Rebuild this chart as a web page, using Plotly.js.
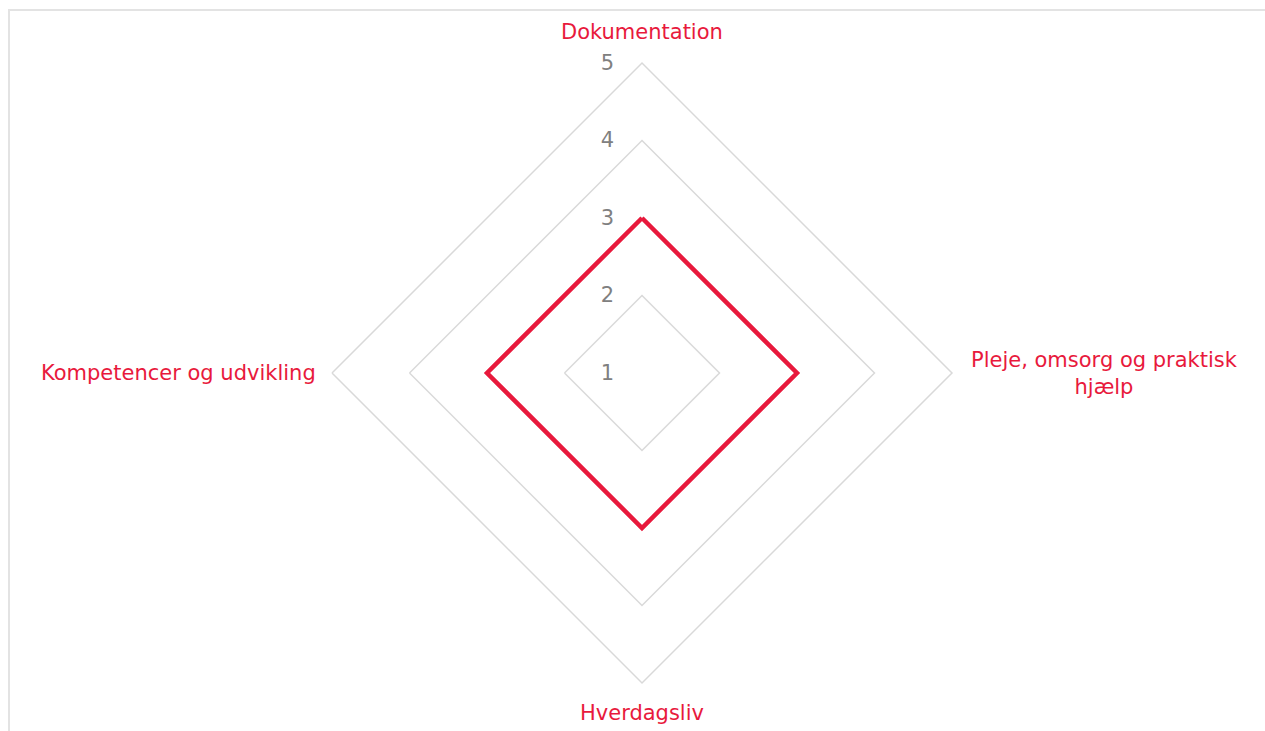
<!DOCTYPE html>
<html>
<head>
<meta charset="utf-8">
<script src="https://cdn.plot.ly/plotly-3.0.1.min.js"></script>
<style>
  html, body { margin: 0; padding: 0; overflow: hidden; background: #fff; }
  #frame { position: absolute; left: 8px; top: 9px; width: 1400px; height: 900px;
           border-left: 2px solid #e3e3e3; border-top: 2px solid #e3e3e3; }
  #chart { position: absolute; left: 0; top: 0; width: 1265px; height: 731px; }
</style>
</head>
<body>
<div id="frame"></div>
<div id="chart"></div>
<script>
const categories = ["Dokumentation", "Pleje, omsorg og praktisk<br>hjælp", "Hverdagsliv", "Kompetencer og udvikling"];
const values = [3, 3, 3, 3];
const radialTicks = [1, 2, 3, 4, 5];

const red = "#e8193c";
const grid = "#d9d9d9";
const FONT = "DejaVu Sans, sans-serif";

const trace = {
  type: "scatterpolar",
  r: values.concat([values[0]]),
  theta: categories.concat([categories[0]]),
  mode: "lines",
  line: { color: red, width: 4.5 },
  hoverinfo: "skip"
};

// category label placement (pixel anchors around the polar area)
const W = 1265, H = 731;
const labelPos = [
  { px: 642, py: 32, xanchor: "center", yanchor: "middle" },
  { px: 1104, py: 373, xanchor: "center", yanchor: "middle" },
  { px: 642, py: 713, xanchor: "center", yanchor: "middle" },
  { px: 318, py: 373, xanchor: "right", yanchor: "middle" }
];
const annotations = categories.map((c, i) => ({
  text: c, xref: "paper", yref: "paper",
  x: labelPos[i].px / W, y: 1 - labelPos[i].py / H,
  xanchor: labelPos[i].xanchor, yanchor: labelPos[i].yanchor,
  align: "center", showarrow: false,
  font: { color: red, size: 21, family: FONT }
}));

const layout = {
  width: W, height: H,
  margin: { l: 0, r: 0, t: 0, b: 0 },
  paper_bgcolor: "rgba(0,0,0,0)",
  plot_bgcolor: "rgba(0,0,0,0)",
  showlegend: false,
  font: { family: FONT },
  annotations: annotations,
  polar: {
    domain: { x: [0.26245, 0.75257], y: [0.06566, 0.91382] },
    bgcolor: "rgba(0,0,0,0)",
    gridshape: "linear",
    radialaxis: {
      range: [1, 5], tickvals: radialTicks, ticktext: radialTicks.map(String),
      angle: 90, tickangle: 90, side: "counterclockwise", showline: false,
      ticks: "outside", ticklen: 20, tickcolor: "rgba(0,0,0,0)",
      gridcolor: grid, gridwidth: 1.5,
      tickfont: { color: "#808080", size: 21, family: FONT }
    },
    angularaxis: {
      rotation: 90, direction: "clockwise", showticklabels: false,
      showgrid: false, showline: true, linecolor: grid, linewidth: 1.5, ticks: ""
    }
  }
};

Plotly.newPlot("chart", [trace], layout, { displayModeBar: false, staticPlot: true });
</script>
</body>
</html>
